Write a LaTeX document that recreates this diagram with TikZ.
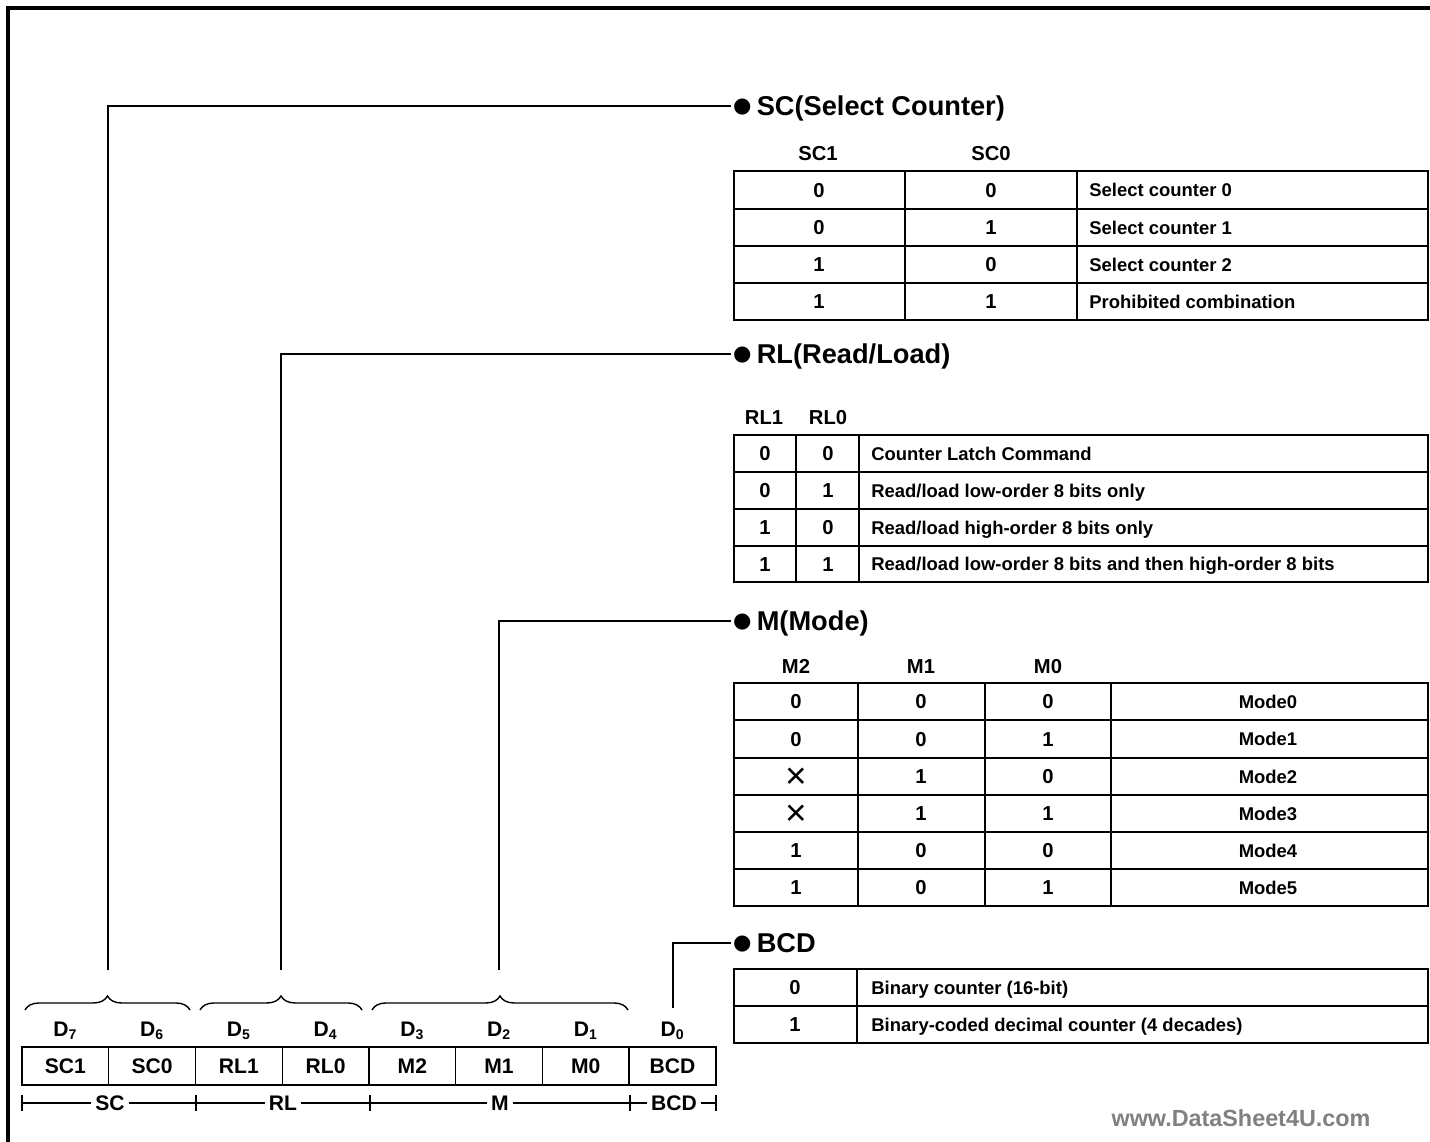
\documentclass[tikz,border=0pt]{standalone}
\usepackage{fontspec}
\setmainfont{Liberation Sans}
\newfontfamily\dotfont{DejaVu Sans}
\usepackage{tikz}
\usetikzlibrary{positioning,decorations.pathreplacing}

\tikzset{
  frameline/.style={line width=2pt},
  outerline/.style={line width=1.5pt},
  innerline/.style={line width=0.8pt},
  leader/.style={line width=0.8pt},
  heading/.style={font=\fontsize{15.5}{18}\selectfont\bfseries, inner sep=1pt, anchor=west,
    text height=11pt, text depth=0pt},
  bitval/.style={font=\fontsize{11.5}{14}\selectfont\bfseries, inner sep=0pt,
    text height=8.2pt, text depth=0pt},
  desc/.style={font=\fontsize{10.5}{12}\selectfont\bfseries, inner sep=0pt, anchor=west,
    text height=7.5pt, text depth=0pt},
  regcell/.style={draw, line width=0.8pt, minimum width=1.735cm, minimum height=0.76cm,
    inner sep=0pt, outer sep=0pt, font=\fontsize{12}{14}\selectfont\bfseries},
  bitname/.style={font=\fontsize{12}{14}\selectfont\bfseries, inner sep=0pt},
  spanlabel/.style={font=\fontsize{12}{14}\selectfont\bfseries, inner xsep=2pt, inner ysep=0pt},
  crossval/.style={font=\fontsize{21}{21}\selectfont, inner sep=0pt,
    text height=14pt, text depth=0pt},
  bracket/.style={decorate, decoration={brace, amplitude=8pt}, line width=0.8pt},
}
\newcommand{\hbul}{\raisebox{1.6pt}{\dotfont\fontsize{12}{12}\selectfont ●}\hspace{3pt}}

\begin{document}
\begin{tikzpicture}[x=0.02cm, y=-0.02cm]
\useasboundingbox (0,0) rectangle (1430,1142);
\draw[frameline] (8,1142) -- (8,8) -- (1430,8);

% control word register
\node[regcell] (sc1) at (65.4,1066) {SC1};
\node[regcell, right=0pt of sc1] (sc0) {SC0};
\node[regcell, right=0pt of sc0] (rl1) {RL1};
\node[regcell, right=0pt of rl1] (rl0) {RL0};
\node[regcell, right=0pt of rl0] (m2) {M2};
\node[regcell, right=0pt of m2] (m1) {M1};
\node[regcell, right=0pt of m1] (m0) {M0};
\node[regcell, right=0pt of m0] (bcd) {BCD};
\draw[outerline] (sc1.north west) rectangle (bcd.south east);

\node[bitname, above=4pt of sc1] (d7) {D\textsubscript{7}};
\node[bitname, above=4pt of sc0] (d6) {D\textsubscript{6}};
\node[bitname, above=4pt of rl1] (d5) {D\textsubscript{5}};
\node[bitname, above=4pt of rl0] (d4) {D\textsubscript{4}};
\node[bitname, above=4pt of m2] (d3) {D\textsubscript{3}};
\node[bitname, above=4pt of m1] (d2) {D\textsubscript{2}};
\node[bitname, above=4pt of m0] (d1) {D\textsubscript{1}};
\node[bitname, above=4pt of bcd] (d0) {D\textsubscript{0}};

% field spans under the register
\coordinate (t0) at (22,1103);
\coordinate (t1) at (196,1103);
\coordinate (t2) at (370,1103);
\coordinate (t3) at (630,1103);
\coordinate (t4) at (716,1103);
\node[spanlabel] (sclab) at (110,1103) {SC};
\node[spanlabel] (rllab) at (283,1103) {RL};
\node[spanlabel] (mlab) at (500,1103) {M};
\node[spanlabel] (bcdlab) at (674,1103) {BCD};
\draw[leader] (t0) -- (sclab) -- (t1) -- (rllab) -- (t2) -- (mlab) -- (t3) -- (bcdlab) -- (t4);
\draw[leader] ([yshift=4.5pt]t0) -- ([yshift=-4.5pt]t0);
\draw[leader] ([yshift=4.5pt]t1) -- ([yshift=-4.5pt]t1);
\draw[leader] ([yshift=4.5pt]t2) -- ([yshift=-4.5pt]t2);
\draw[leader] ([yshift=4.5pt]t3) -- ([yshift=-4.5pt]t3);
\draw[leader] ([yshift=4.5pt]t4) -- ([yshift=-4.5pt]t4);

% braces over the fields
\draw[bracket] (25,1010) -- (190,1010);
\draw[bracket] (200,1010) -- (362,1010);
\draw[bracket] (372,1010) -- (628,1010);

% headings and leaders
\node[heading] (schead) at (731,106) {\hbul SC(Select Counter)};
\node[heading] (rlhead) at (731,354) {\hbul RL(Read/Load)};
\node[heading] (mhead) at (731,621) {\hbul M(Mode)};
\node[heading] (bcdhead) at (731,943) {\hbul BCD};
\coordinate (scfoot) at (108,970);
\coordinate (rlfoot) at (281,970);
\coordinate (mfoot) at (499,970);
\coordinate (bcdfoot) at (673,1008);
\draw[leader] (scfoot) |- (schead.west);
\draw[leader] (rlfoot) |- (rlhead.west);
\draw[leader] (mfoot) |- (mhead.west);
\draw[leader] (bcdfoot) |- (bcdhead.west);

% SC table
\draw[outerline] (734,171) rectangle (1428,320);
\draw[innerline] (734,209) -- (1428,209);
\draw[innerline] (734,246) -- (1428,246);
\draw[innerline] (734,283) -- (1428,283);
\draw[innerline] (905,171) -- (905,320);
\draw[innerline] (1077,171) -- (1077,320);
\node[bitval] (schd1) at (818,153) {SC1};
\node[bitval] (schd0) at (991,153) {SC0};
\node[bitval] (sca1) at (819,190) {0};
\node[bitval] (scb1) at (991,190) {0};
\node[desc] (scc1) at (1089,190) {Select counter 0};
\node[bitval] (sca2) at (819,227.5) {0};
\node[bitval] (scb2) at (991,227.5) {1};
\node[desc] (scc2) at (1089,227.5) {Select counter 1};
\node[bitval] (sca3) at (819,264.5) {1};
\node[bitval] (scb3) at (991,264.5) {0};
\node[desc] (scc3) at (1089,264.5) {Select counter 2};
\node[bitval] (sca4) at (819,301.5) {1};
\node[bitval] (scb4) at (991,301.5) {1};
\node[desc] (scc4) at (1089,301.5) {Prohibited combination};

% RL table
\draw[outerline] (734,435) rectangle (1428,582);
\draw[innerline] (734,472) -- (1428,472);
\draw[innerline] (734,509) -- (1428,509);
\draw[innerline] (734,546) -- (1428,546);
\draw[innerline] (796,435) -- (796,582);
\draw[innerline] (859,435) -- (859,582);
\node[bitval] (rlhd1) at (764,417) {RL1};
\node[bitval] (rlhd0) at (828,417) {RL0};
\node[bitval] (rla1) at (765,453.5) {0};
\node[bitval] (rlb1) at (828,453.5) {0};
\node[desc] (rlc1) at (871,453.5) {Counter Latch Command};
\node[bitval] (rla2) at (765,490.5) {0};
\node[bitval] (rlb2) at (828,490.5) {1};
\node[desc] (rlc2) at (871,490.5) {Read/load low-order 8 bits only};
\node[bitval] (rla3) at (765,527.5) {1};
\node[bitval] (rlb3) at (828,527.5) {0};
\node[desc] (rlc3) at (871,527.5) {Read/load high-order 8 bits only};
\node[bitval] (rla4) at (765,564) {1};
\node[bitval] (rlb4) at (828,564) {1};
\node[desc] (rlc4) at (871,564) {Read/load low-order 8 bits and then high-order 8 bits};

% M table
\draw[outerline] (734,683) rectangle (1428,906);
\draw[innerline] (734,720) -- (1428,720);
\draw[innerline] (734,758) -- (1428,758);
\draw[innerline] (734,795) -- (1428,795);
\draw[innerline] (734,832) -- (1428,832);
\draw[innerline] (734,869) -- (1428,869);
\draw[innerline] (858,683) -- (858,906);
\draw[innerline] (985,683) -- (985,906);
\draw[innerline] (1111,683) -- (1111,906);
\node[bitval] (mhd2) at (796,666) {M2};
\node[bitval] (mhd1) at (921,666) {M1};
\node[bitval] (mhd0) at (1048,666) {M0};
\node[bitval] (ma1) at (796,701.5) {0};
\node[bitval] (mb1) at (921,701.5) {0};
\node[bitval] (mc1) at (1048,701.5) {0};
\node[desc, anchor=center] (md1) at (1268,701.5) {Mode0};
\node[bitval] (ma2) at (796,739) {0};
\node[bitval] (mb2) at (921,739) {0};
\node[bitval] (mc2) at (1048,739) {1};
\node[desc, anchor=center] (md2) at (1268,739) {Mode1};
\node[crossval] (ma3) at (796,776.5) {×};
\node[bitval] (mb3) at (921,776.5) {1};
\node[bitval] (mc3) at (1048,776.5) {0};
\node[desc, anchor=center] (md3) at (1268,776.5) {Mode2};
\node[crossval] (ma4) at (796,813.5) {×};
\node[bitval] (mb4) at (921,813.5) {1};
\node[bitval] (mc4) at (1048,813.5) {1};
\node[desc, anchor=center] (md4) at (1268,813.5) {Mode3};
\node[bitval] (ma5) at (796,850.5) {1};
\node[bitval] (mb5) at (921,850.5) {0};
\node[bitval] (mc5) at (1048,850.5) {0};
\node[desc, anchor=center] (md5) at (1268,850.5) {Mode4};
\node[bitval] (ma6) at (796,887.5) {1};
\node[bitval] (mb6) at (921,887.5) {0};
\node[bitval] (mc6) at (1048,887.5) {1};
\node[desc, anchor=center] (md6) at (1268,887.5) {Mode5};

% BCD table
\draw[outerline] (734,969) rectangle (1428,1043);
\draw[innerline] (734,1006) -- (1428,1006);
\draw[innerline] (857,969) -- (857,1043);
\node[bitval] (bcda1) at (795,987.5) {0};
\node[desc] (bcdb1) at (871,987.5) {Binary counter (16-bit)};
\node[bitval] (bcda2) at (795,1024.5) {1};
\node[desc] (bcdb2) at (871,1024.5) {Binary-coded decimal counter (4 decades)};

\node[font=\fontsize{13.3}{16}\selectfont\bfseries, text=gray] (mark) at (1241,1118) {www.DataSheet4U.com};
\end{tikzpicture}
\end{document}
